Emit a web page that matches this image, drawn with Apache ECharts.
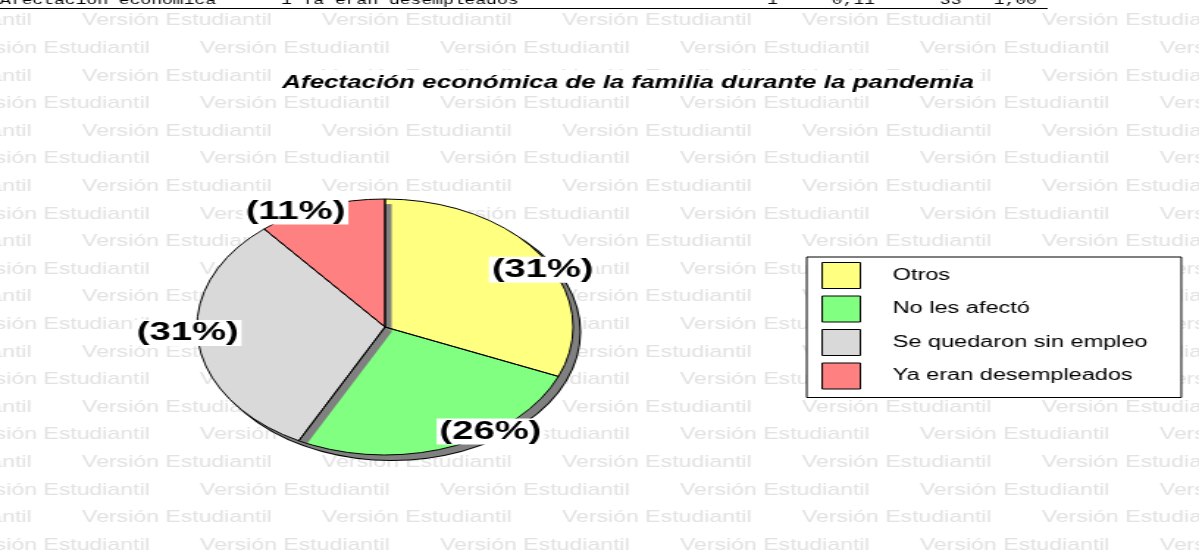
<!DOCTYPE html>
<html>
<head>
<meta charset="utf-8">
<title>Afectación económica de la familia durante la pandemia</title>
<script src="https://cdn.jsdelivr.net/npm/echarts@6/dist/echarts.min.js"></script>
<style>
  html, body { margin: 0; padding: 0; background: #fff; overflow: hidden; }
  /* la figura original viene estirada en horizontal: se dibuja estrecha y se estira */
  #chart { width: 816px; height: 554px; transform: scaleX(1.4694); transform-origin: 0 0; }
</style>
</head>
<body>
<div id="chart"></div>
<script>
// datos del gráfico
const categorias = ['Otros', 'No les afectó', 'Se quedaron sin empleo', 'Ya eran desempleados'];
const porcentajes = [31, 26, 31, 11];
const colores = ['#ffff80', '#80ff80', '#d9d9d9', '#ff8080'];

// renglón de la tabla anterior, cortado arriba
const filaTabla = ['Afectación económica', '1', 'Ya eran desempleados', '1', '0,11', '33', '1,00'];
const columnasTabla = [0, 26, 28, 71, 77, 87, 92];

const marcaAgua = 'Versión Estudiantil';

// geometría (px antes del estiramiento)
const CX = 262, CY = 327, R = 128;
const SOMBRA_X = 4.5, SOMBRA_Y = 5;
// ajuste de las etiquetas: giro en grados y alcance relativo al radio
const giroEtiqueta = [5.6, -14.5, 3.8, -7.8];
const alcanceEtiqueta = [0.95, 0.99, 1.05, 1.02];

const total = porcentajes.reduce((a, b) => a + b, 0);
const angMedio = [];
let acum = 0;
porcentajes.forEach(v => { angMedio.push((acum + v / 2) / total * 360); acum += v; });

let lineaTabla = '';
filaTabla.forEach((t, i) => { lineaTabla = lineaTabla.padEnd(columnasTabla[i], ' ') + t; });

// marca de agua de fondo
const graficos = [];
for (let i = 0; i < 20; i++) {
  const y = 21 + 27.6 * i;
  const x0 = i % 2 === 0 ? -107.5 : -27.2;
  for (let k = 0; k < 7; k++) {
    graficos.push({
      type: 'text', z: -10, silent: true,
      x: x0 + 163.3 * k, y: y,
      style: {
        text: marcaAgua, fill: '#e2e2e2',
        font: '15.7px "Liberation Sans", Arial, sans-serif',
        textAlign: 'left', textVerticalAlign: 'middle', align: 'left', verticalAlign: 'middle'
      }
    });
  }
}
graficos.push({
  type: 'text', z: 10, silent: true, x: 0, y: 7,
  style: {
    text: lineaTabla, fill: '#000',
    font: '12.25px "Liberation Mono", "Courier New", monospace',
    textAlign: 'left', textVerticalAlign: 'bottom', align: 'left', verticalAlign: 'bottom'
  }
});
graficos.push({
  type: 'line', z: 10, silent: true,
  shape: { x1: 0, y1: 8.5, x2: 713, y2: 8.5 },
  style: { stroke: '#000', lineWidth: 1.2 }
});

const datos = categorias.map((c, i) => ({ name: c, value: porcentajes[i], itemStyle: { color: colores[i] } }));

const chart = echarts.init(document.getElementById('chart'), null, { renderer: 'canvas' });
chart.setOption({
  animation: false,
  backgroundColor: '#fff',
  graphic: graficos,
  title: {
    text: 'Afectación económica de la familia durante la pandemia',
    left: 188, top: 70,
    padding: [2, 4],
    backgroundColor: '#fff',
    textStyle: {
      fontFamily: '"Liberation Sans", Arial, sans-serif',
      fontSize: 17.7, fontWeight: 'bold', fontStyle: 'italic',
      color: '#000', lineHeight: 22
    }
  },
  legend: {
    data: categorias,
    orient: 'vertical',
    left: 549, top: 257,
    padding: [5, 23, 8, 10],
    backgroundColor: '#fff',
    borderColor: '#000', borderWidth: 1,
    icon: 'rect',
    itemWidth: 26, itemHeight: 26, itemGap: 6.5,
    selectedMode: false,
    itemStyle: {
      borderColor: '#000', borderWidth: 1,
      shadowBlur: 0, shadowColor: 'transparent', shadowOffsetX: 0, shadowOffsetY: 0
    },
    textStyle: {
      fontFamily: '"Liberation Sans", Arial, sans-serif',
      fontSize: 16, color: '#000',
      padding: [0, 0, 0, 17]
    }
  },
  series: [
    {
      // sombra completa del pastel
      type: 'pie', z: 1, silent: true,
      center: [CX + SOMBRA_X, CY + SOMBRA_Y], radius: R, startAngle: 90,
      data: [{ name: 'sombra', value: 1 }],
      itemStyle: { color: '#808080', borderColor: '#000', borderWidth: 2 },
      label: { show: false }, labelLine: { show: false }
    },
    {
      // rellenos con sombra dura
      type: 'pie', z: 2, silent: true,
      center: [CX, CY], radius: R, startAngle: 90, clockwise: true,
      data: datos,
      itemStyle: {
        borderWidth: 0,
        shadowColor: '#808080', shadowBlur: 0,
        shadowOffsetX: SOMBRA_X, shadowOffsetY: SOMBRA_Y
      },
      label: { show: false }, labelLine: { show: false }
    },
    {
      // contornos y etiquetas
      type: 'pie', z: 3, silent: true,
      center: [CX, CY], radius: R, startAngle: 90, clockwise: true,
      avoidLabelOverlap: false,
      data: categorias.map((c, i) => ({ name: c, value: porcentajes[i] })),
      itemStyle: { color: 'transparent', borderColor: '#000', borderWidth: 1 },
      label: {
        show: true, position: 'inside',
        formatter: p => '(' + p.value + '%)',
        fontFamily: '"Liberation Sans", Arial, sans-serif',
        fontSize: 26, fontWeight: 'bold', color: '#000',
        backgroundColor: '#fff', padding: [0, 2], lineHeight: 26
      },
      labelLine: { show: false },
      labelLayout: function (p) {
        const i = p.dataIndex;
        const a = (angMedio[i] + giroEtiqueta[i]) * Math.PI / 180;
        const r = R * alcanceEtiqueta[i];
        return {
          x: CX + r * Math.sin(a),
          y: CY - r * Math.cos(a),
          align: 'center', verticalAlign: 'middle'
        };
      }
    }
  ]
});
</script>
</body>
</html>
